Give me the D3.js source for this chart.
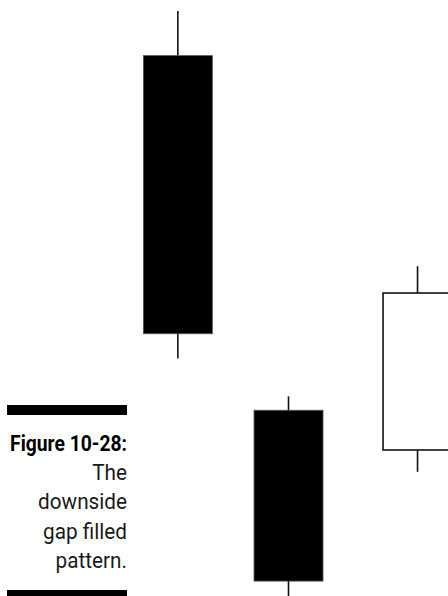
<!DOCTYPE html>
<html>
<head>
<meta charset="utf-8">
<script src="https://cdn.jsdelivr.net/npm/d3@7"></script>
<style>
  html, body { margin: 0; padding: 0; background: #fff; }
  svg { display: block; }
</style>
</head>
<body>
<svg width="448" height="596"></svg>
<script>
// candle data (price units, schematic)
var days   = [3.97, 6.44, 9.32];
var opens  = [94.4, 58.7, 54.7];
var closes = [66.4, 41.5, 70.5];
var highs  = [98.9, 60.1, 73.2];
var lows   = [63.9, 39.4, 52.5];

var captionTitle = "Figure 10-28:";
var captionLines = ["The", "downside", "gap filled", "pattern."];

var svg = d3.select("svg"),
	width = +svg.attr("width"),
	height = +svg.attr("height");

var x = d3.scaleLinear().domain([0, 10]).range([0, width]),
	y = d3.scaleLinear().domain([40, 100]).range([596, 0]);

var bodyW = 69;

var data = days.map(function(d, i) {
	return { day: d, open: opens[i], close: closes[i], high: highs[i], low: lows[i] };
});

var g = svg.append("g");

// wicks
g.selectAll(".wick")
	.data(data)
	.enter().append("line")
	.attr("class", "wick")
	.attr("x1", function(d) { return x(d.day); })
	.attr("x2", function(d) { return x(d.day); })
	.attr("y1", function(d) { return y(d.high); })
	.attr("y2", function(d) { return y(d.low); })
	.attr("stroke", "#111")
	.attr("stroke-width", 1.6);

// bodies
g.selectAll(".body")
	.data(data)
	.enter().append("rect")
	.attr("class", "body")
	.attr("x", function(d) { return x(d.day) - bodyW / 2; })
	.attr("width", bodyW)
	.attr("y", function(d) { return y(Math.max(d.open, d.close)); })
	.attr("height", function(d) { return Math.abs(y(d.open) - y(d.close)); })
	.attr("fill", function(d) { return d.close < d.open ? "#000" : "#fff"; })
	.attr("stroke", function(d) { return d.close < d.open ? "#555" : "#111"; })
	.attr("stroke-width", function(d) { return d.close < d.open ? 0.8 : 1.6; });

// caption
var cap = svg.append("g").attr("class", "caption");

cap.append("rect")
	.attr("x", 7).attr("y", 405)
	.attr("width", 120).attr("height", 10)
	.attr("fill", "#000");

cap.append("rect")
	.attr("x", 7).attr("y", 590)
	.attr("width", 120).attr("height", 10)
	.attr("fill", "#000");

function captionText(str, yy, bold, target) {
	var t = cap.append("g")
		.attr("transform", "translate(127," + yy + ")")
		.append("text")
		.attr("text-anchor", "end")
		.attr("font-family", "Roboto, 'Liberation Sans', sans-serif")
		.attr("font-size", 22)
		.attr("font-weight", bold ? "bold" : "normal")
		.attr("fill", bold ? "#000" : "#1a1a1a")
		.text(str);
	return t;
}

var title = captionText(captionTitle, 450.5, true);
var kb = 117 / title.node().getComputedTextLength();
title.attr("transform", "scale(" + kb + ",1)");

var lines = captionLines.map(function(s, i) {
	return captionText(s, 480 + i * 29.4, false);
});
var kr = 89 / lines[1].node().getComputedTextLength();
lines.forEach(function(t) { t.attr("transform", "scale(" + kr + ",1)"); });
</script>
</body>
</html>
